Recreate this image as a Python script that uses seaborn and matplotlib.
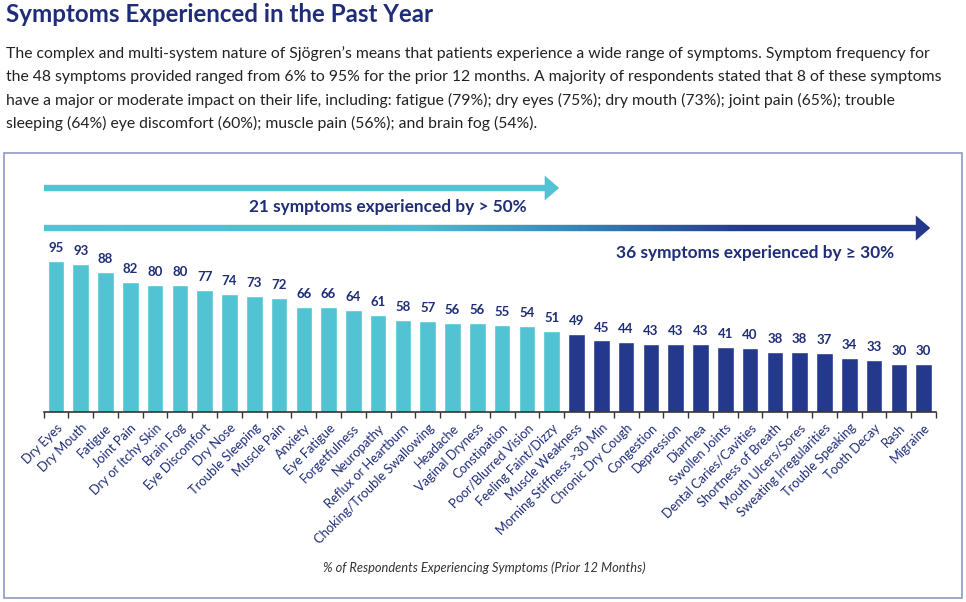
import numpy as np
import pandas as pd
import matplotlib
matplotlib.use("Agg")
import matplotlib.pyplot as plt
import matplotlib.transforms as mtransforms
from matplotlib.patches import Polygon, Rectangle
from matplotlib.collections import LineCollection
from matplotlib.colors import LinearSegmentedColormap
import seaborn as sns

# Данные
symptoms = [
    "Dry Eyes", "Dry Mouth", "Fatigue", "Joint Pain", "Dry or Itchy Skin", "Brain Fog",
    "Eye Discomfort", "Dry Nose", "Trouble Sleeping", "Muscle Pain", "Anxiety", "Eye Fatigue",
    "Forgetfulness", "Neuropathy", "Reflux or Heartburn", "Choking/Trouble Swallowing",
    "Headache", "Vaginal Dryness", "Constipation", "Poor/Blurred Vision", "Feeling Faint/Dizzy",
    "Muscle Weakness", "Morning Stiffness >30 Min", "Chronic Dry Cough", "Congestion",
    "Depression", "Diarrhea", "Swollen Joints", "Dental Caries/Cavities", "Shortness of Breath",
    "Mouth Ulcers/Sores", "Sweating Irregularities", "Trouble Speaking", "Tooth Decay", "Rash",
    "Migraine",
]
percent = [95, 93, 88, 82, 80, 80, 77, 74, 73, 72, 66, 66, 64, 61, 58, 57, 56, 56, 55, 54, 51,
           49, 45, 44, 43, 43, 43, 41, 40, 38, 38, 37, 34, 33, 30, 30]
group = ["> 50%" if p > 50 else "≥ 30%" for p in percent]

title = "Symptoms Experienced in the Past Year"
intro = [
    "The complex and multi-system nature of Sjögren’s means that patients experience a wide range of symptoms. Symptom frequency for",
    "the 48 symptoms provided ranged from 6% to 95% for the prior 12 months. A majority of respondents stated that 8 of these symptoms",
    "have a major or moderate impact on their life, including: fatigue (79%); dry eyes (75%); dry mouth (73%); joint pain (65%); trouble",
    "sleeping (64%) eye discomfort (60%); muscle pain (56%); and brain fog (54%).",
]
xlabel = "% of Respondents Experiencing Symptoms (Prior 12 Months)"

CYAN = "#52c3d3"
NAVY = "#24398c"
TEXT = "#1f2d78"

df = pd.DataFrame({"symptom": symptoms, "percent": percent, "group": group})

sns.set_theme(style="white")
plt.rcParams["font.family"] = ["Lato", "DejaVu Sans"]

W, H = 966, 602
fig = plt.figure(figsize=(W / 100, H / 100), dpi=100)

# Оси: baseline y=412px, 1.59 px на единицу
ax_left, ax_right, base_y, top_y = 43.5, 936, 412, 168
ax = fig.add_axes([ax_left / W, 1 - base_y / H, (ax_right - ax_left) / W, (base_y - top_y) / H])
ymax = (base_y - top_y) / 1.59

sns.barplot(data=df, x="symptom", y="percent", hue="group",
            palette={"> 50%": CYAN, "≥ 30%": NAVY}, dodge=False, width=0.67,
            legend=False, ax=ax, saturation=1)

for c in ax.containers:
    ax.bar_label(c, padding=5, fontsize=9.5, fontweight="bold", color=TEXT)

ax.set_xlim(-0.5, len(symptoms) - 0.5)
ax.set_ylim(0, ymax)
ax.set_yticks([])
ax.set_xlabel("")
ax.set_ylabel("")
for s in ["top", "right", "left"]:
    ax.spines[s].set_visible(False)
ax.spines["bottom"].set_color("#333333")
ax.spines["bottom"].set_linewidth(1.2)
ax.set_xticks(np.arange(len(symptoms)))
ax.set_xticklabels(symptoms, rotation=45, ha="right", rotation_mode="anchor",
                   fontsize=9.3, color=TEXT)
ax.set_xticks(np.arange(-0.5, len(symptoms)), minor=True)
ax.tick_params(axis="x", which="major", length=0, pad=7)
ax.tick_params(axis="x", which="minor", length=4, width=1, color="#333333", direction="out", bottom=True)


def draw_arrow(x0, x1, y, cmap):
    # стрелка: градиентный стержень + треугольный наконечник
    xs = np.linspace(x0, x1 - 0.3, 200)
    pts = np.column_stack([xs, np.full_like(xs, y)])
    segs = np.stack([pts[:-1], pts[1:]], axis=1)
    lc = LineCollection(segs, colors=cmap(np.linspace(0, 1, len(segs))), linewidths=4.6,
                        capstyle="butt", clip_on=False)
    ax.add_collection(lc)
    tr = fig.dpi_scale_trans + mtransforms.ScaledTranslation(x1, y, ax.transData)
    L, hw = 0.145, 0.125
    head = Polygon([(0, 0), (-L, hw), (-L, -hw)], closed=True, transform=tr,
                   facecolor=cmap(1.0), edgecolor="none", clip_on=False)
    ax.add_patch(head)


n_over50 = sum(p > 50 for p in percent)
n_over30 = sum(p >= 30 for p in percent)

cmap1 = LinearSegmentedColormap.from_list("c1", [CYAN, CYAN])
cmap2 = LinearSegmentedColormap.from_list(
    "c2", [(0, CYAN), (0.42, "#4fbcd0"), (0.6, "#3688b9"), (0.8, NAVY), (1, NAVY)])

y1 = (base_y - 188) / 1.59
y2 = (base_y - 228) / 1.59
draw_arrow(-0.5, n_over50 - 0.7, y1, cmap1)
draw_arrow(-0.5, n_over30 - 0.73, y2, cmap2)

ax.text(13.4, (base_y - 207) / 1.59, f"{n_over50} symptoms experienced by > 50%",
        ha="center", va="center", fontsize=12.4, fontweight="bold", color=TEXT)
ax.text(28.2, (base_y - 253) / 1.59, f"{n_over30} symptoms experienced by ≥ 30%",
        ha="center", va="center", fontsize=12.4, fontweight="bold", color=TEXT)

fig.text(484 / W, 1 - 568 / H, xlabel, ha="center", va="center", fontsize=9.3,
         style="italic", color="#333333")

# Заголовок и вводный текст
fig.text(6 / W, 1 - 14 / H, title, ha="left", va="center", fontsize=17.4,
         fontweight="bold", color=TEXT)
for i, line in enumerate(intro):
    fig.text(6 / W, 1 - (54 + i * 23) / H, line, ha="left", va="center",
             fontsize=11.3, color="#222222")

# Рамка графика
fig.add_artist(Rectangle((4 / W, 4 / H), 958 / W, (598 - 153) / H, transform=fig.transFigure,
                         fill=False, edgecolor="#8c9ac4", linewidth=1.2))

fig.savefig("out.png", dpi=100)
